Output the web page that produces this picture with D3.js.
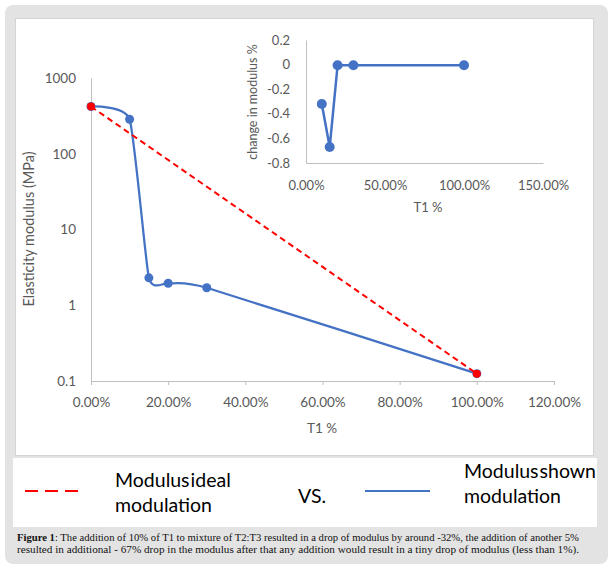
<!DOCTYPE html>
<html>
<head>
<meta charset="utf-8">
<script src="https://cdn.jsdelivr.net/npm/d3@7"></script>
<style>
  body { margin: 0; background: #fff; }
  .tick text { fill: #595959; }
</style>
</head>
<body>
<div id="myChart"></div>
<script>
// main chart: T1 share vs elasticity modulus (MPa), log scale
const mainT1 = [0, 0.10, 0.15, 0.20, 0.30, 1.00];
const mainModulus = [420, 285, 2.3, 1.95, 1.7, 0.125];
const idealT1 = [0, 1.00];
const idealModulus = [420, 0.125];
const mainXTicks = [0, 0.2, 0.4, 0.6, 0.8, 1.0, 1.2];
const mainYTicks = [0.1, 1, 10, 100, 1000];

// inset: change in modulus %
const insetT1 = [0.10, 0.15, 0.20, 0.30, 1.00];
const insetChange = [-0.32, -0.67, -0.005, -0.005, -0.005];
const insetXTicks = [0, 0.5, 1.0, 1.5];
const insetYTicks = [-0.8, -0.6, -0.4, -0.2, 0, 0.2];

const legendItems = ["Modulus ideal", "Modulus shown"];
const captionLines = [
  "The addition of 10% of T1 to mixture of T2:T3 resulted in a drop of modulus by around -32%, the addition of another 5%",
  "resulted in additional - 67% drop in the modulus after that any addition would result in a tiny drop of modulus (less than 1%)."
];

const W = 613, H = 569;
const blue = "#4472C4", red = "#FF0000", axisCol = "#bfbfbf", textCol = "#595959";
const font = "Lato, 'Open Sans', sans-serif";

const svg = d3.select("#myChart").append("svg")
  .attr("width", W).attr("height", H)
  .style("font-family", font);

// frame
svg.append("rect").attr("x", 5).attr("y", 5).attr("width", 603).attr("height", 559)
  .attr("rx", 8).attr("fill", "#e3e3e3");
svg.append("rect").attr("x", 15.5).attr("y", 18.5).attr("width", 578).attr("height", 437)
  .attr("fill", "#fff").attr("stroke", "#d4d4d4");
svg.append("rect").attr("x", 13).attr("y", 458).attr("width", 584).attr("height", 69)
  .attr("fill", "#fff");

// ---------- main chart ----------
const x = d3.scaleLinear().domain([0, 1.2]).range([91, 554]);
const y = d3.scaleLog().domain([0.1, 1000]).range([381, 78]);

const xAxis = svg.append("g")
  .attr("transform", "translate(0," + y(0.1) + ")")
  .call(d3.axisBottom(x).tickValues(mainXTicks).tickFormat(d3.format(".2%"))
    .tickSize(4).tickPadding(12).tickSizeOuter(4));
xAxis.selectAll("path, line").attr("stroke", axisCol);
xAxis.selectAll("text").style("font-size", "13.5px").style("font-family", font);

const yAxis = svg.append("g")
  .attr("transform", "translate(" + x(0) + ",0)")
  .call(d3.axisLeft(y).tickValues(mainYTicks).tickFormat(d => String(d))
    .tickSize(0).tickPadding(15));
yAxis.select("path").attr("stroke", axisCol);
yAxis.selectAll("text").style("font-size", "13.5px").style("font-family", font);

svg.append("text")
  .attr("transform", "translate(34,229) rotate(-90)")
  .attr("text-anchor", "middle")
  .style("font-size", "14.5px").attr("fill", textCol)
  .text("Elasticity modulus (MPa)");

svg.append("text")
  .attr("x", 322).attr("y", 433)
  .attr("text-anchor", "middle")
  .style("font-size", "13.5px").attr("fill", textCol)
  .text("T1 %");

const mainPts = mainT1.map((t, i) => [t, mainModulus[i]]);
const idealPts = idealT1.map((t, i) => [t, idealModulus[i]]);

// shown modulation (smoothed)
svg.append("path")
  .datum(mainPts)
  .attr("fill", "none").attr("stroke", blue).attr("stroke-width", 2.25)
  .attr("d", d3.line().x(d => x(d[0])).y(d => y(d[1])).curve(d3.curveCardinal.tension(0.5)));

svg.selectAll(".mdot").data(mainPts).enter().append("circle")
  .attr("class", "mdot")
  .attr("cx", d => x(d[0])).attr("cy", d => y(d[1])).attr("r", 4.5)
  .attr("fill", blue);

// ideal modulation
svg.append("path")
  .datum(idealPts)
  .attr("fill", "none").attr("stroke", red).attr("stroke-width", 2)
  .attr("stroke-dasharray", "6,4")
  .attr("d", d3.line().x(d => x(d[0])).y(d => y(d[1])));

svg.selectAll(".idot").data(idealPts).enter().append("circle")
  .attr("class", "idot")
  .attr("cx", d => x(d[0])).attr("cy", d => y(d[1])).attr("r", 4)
  .attr("fill", red);

// ---------- inset ----------
const ix = d3.scaleLinear().domain([0, 1.5]).range([306, 543]);
const iy = d3.scaleLinear().domain([-0.8, 0.2]).range([163, 40]);

const ixAxis = svg.append("g")
  .attr("transform", "translate(0," + iy(-0.8) + ")")
  .call(d3.axisBottom(ix).tickValues(insetXTicks).tickFormat(d3.format(".2%"))
    .tickSize(0).tickPadding(18));
ixAxis.select("path").attr("stroke", axisCol);
ixAxis.selectAll("text").style("font-size", "13px").style("font-family", font);

const iyAxis = svg.append("g")
  .attr("transform", "translate(" + ix(0) + ",0)")
  .call(d3.axisLeft(iy).tickValues(insetYTicks).tickFormat(d => String(+d.toFixed(1)))
    .tickSize(0).tickPadding(16));
iyAxis.select("path").attr("stroke", axisCol);
iyAxis.selectAll("text").style("font-size", "13px").style("font-family", font);

svg.append("text")
  .attr("transform", "translate(257,102) rotate(-90)")
  .attr("text-anchor", "middle")
  .style("font-size", "12.5px").attr("fill", textCol)
  .text("change in modulus %");

svg.append("text")
  .attr("x", 428).attr("y", 212)
  .attr("text-anchor", "middle")
  .style("font-size", "13px").attr("fill", textCol)
  .text("T1 %");

const insetPts = insetT1.map((t, i) => [t, insetChange[i]]);

svg.append("path")
  .datum(insetPts)
  .attr("fill", "none").attr("stroke", blue).attr("stroke-width", 2.5)
  .attr("d", d3.line().x(d => ix(d[0])).y(d => iy(d[1])));

svg.selectAll(".sdot").data(insetPts).enter().append("circle")
  .attr("class", "sdot")
  .attr("cx", d => ix(d[0])).attr("cy", d => iy(d[1])).attr("r", 5)
  .attr("fill", blue);

// ---------- legend ----------
svg.append("line")
  .attr("x1", 25).attr("x2", 78).attr("y1", 491).attr("y2", 491)
  .attr("stroke", red).attr("stroke-width", 2).attr("stroke-dasharray", "13,7");
svg.append("line")
  .attr("x1", 365).attr("x2", 430).attr("y1", 491).attr("y2", 491)
  .attr("stroke", blue).attr("stroke-width", 2);

const legendText = svg.append("g")
  .style("font-size", "19.5px").style("word-spacing", "-4px").attr("fill", "#000");
legendText.append("text").attr("x", 115).attr("y", 487).text(legendItems[0]);
legendText.append("text").attr("x", 115).attr("y", 512).text("modulation");
legendText.append("text").attr("x", 298).attr("y", 503).text("VS.");
legendText.append("text").attr("x", 464).attr("y", 478).text(legendItems[1]);
legendText.append("text").attr("x", 464).attr("y", 503).text("modulation");

// ---------- caption ----------
const cap = svg.append("g")
  .style("font-family", "'Liberation Serif', 'DejaVu Serif', serif")
  .style("font-size", "10.5px").attr("fill", "#111");
const c1 = cap.append("text").attr("x", 17).attr("y", 541)
  .attr("textLength", 562).attr("lengthAdjust", "spacingAndGlyphs");
c1.append("tspan").style("font-weight", "bold").text("Figure 1");
c1.append("tspan").text(": " + captionLines[0]);
cap.append("text").attr("x", 17).attr("y", 553)
  .attr("textLength", 562).attr("lengthAdjust", "spacingAndGlyphs")
  .text(captionLines[1]);
</script>
</body>
</html>
